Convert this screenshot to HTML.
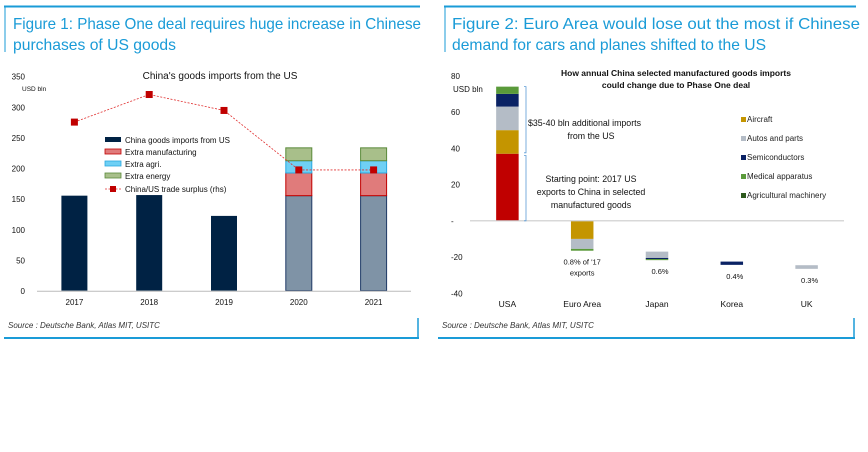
<!DOCTYPE html>
<html><head><meta charset="utf-8"><style>
body{margin:0;background:#fff;width:868px;height:452px;overflow:hidden;font-family:"Liberation Sans",sans-serif}
svg{position:absolute;left:0;top:0}
.t{font-family:"Liberation Sans",sans-serif;fill:#1a9bd7;font-size:16px}
</style></head><body>
<svg id="s" width="868" height="452">
<g>
<line x1="4" y1="6.5" x2="420" y2="6.5" stroke="#1a9bd7" stroke-width="2"/>
<line x1="5" y1="6" x2="5" y2="52" stroke="#1a9bd7" stroke-width="1"/>
<text class="t" x="13" y="29" textLength="408" lengthAdjust="spacingAndGlyphs">Figure 1: Phase One deal requires huge increase in Chinese</text>
<text class="t" x="13" y="50" textLength="163" lengthAdjust="spacingAndGlyphs">purchases of US goods</text>
</g>
<g>
<line x1="444" y1="6.5" x2="856" y2="6.5" stroke="#1a9bd7" stroke-width="2"/>
<line x1="445" y1="6" x2="445" y2="52" stroke="#1a9bd7" stroke-width="1"/>
<text class="t" x="452" y="29" textLength="408" lengthAdjust="spacingAndGlyphs">Figure 2: Euro Area would lose out the most if Chinese</text>
<text class="t" x="452" y="50" textLength="314" lengthAdjust="spacingAndGlyphs">demand for cars and planes shifted to the US</text>
</g>
<g id="c1"></g>
<g id="c2"></g>
<g>
<text x="8" y="328" font-size="8" font-style="italic" fill="#333">Source : Deutsche Bank, Atlas MIT, USITC</text>
<line x1="4" y1="338" x2="419" y2="338" stroke="#1a9bd7" stroke-width="2"/>
<line x1="418" y1="318" x2="418" y2="338" stroke="#1a9bd7" stroke-width="1.5"/>
</g>
<g>
<text x="442" y="328" font-size="8" font-style="italic" fill="#333">Source : Deutsche Bank, Atlas MIT, USITC</text>
<line x1="438" y1="338" x2="855" y2="338" stroke="#1a9bd7" stroke-width="2"/>
<line x1="854" y1="318" x2="854" y2="338" stroke="#1a9bd7" stroke-width="1.5"/>
</g>
</svg>
<script>
const NS="http://www.w3.org/2000/svg";
function mk(p,tag,a,txt){const e=document.createElementNS(NS,tag);for(const k in a)e.setAttribute(k,a[k]);if(txt!==undefined)e.textContent=txt;p.appendChild(e);return e;}

// ---- Chart 1 data ----
const years=["2017","2018","2019","2020","2021"];
const baseImports=[155,156,122,155,155];
const extraManuf=[0,0,0,37,37];
const extraAgri=[0,0,0,20,20];
const extraEnergy=[0,0,0,21,21];
const surplus=[275,320,294,197,197];
const yTicks1=[0,50,100,150,200,250,300,350];

// ---- Chart 2 data ----
const regions=["USA","Euro Area","Japan","Korea","UK"];
const startBase=[0,0,-17,-22.5,-24.5];
const starting=[37,0,0,0,0];
const aircraft=[13,-10,0,0,0];
const autos=[13,-5.5,-3.5,0,-2];
const semis=[7,0,-0.6,-1.8,0];
const medical=[4,-1,-0.6,0,0];
const shareLabels=["","0.8% of '17|exports","0.6%","0.4%","0.3%"];
const yTicks2=[-40,-20,0,20,40,60,80];

// ---- Chart 1 ----
(function(){
const g=document.getElementById('c1');
const x0=37,x1=411,yb=290.7,k=0.6131;
const y=v=>yb-v*k;
const bw=(x1-x0)/years.length;
const xc=i=>x0+bw*(i+0.5);
mk(g,'text',{x:220,y:79,'font-size':10,'text-anchor':'middle',fill:'#111'},"China's goods imports from the US");
yTicks1.forEach(t=>{const e=mk(g,'text',{x:25,y:y(t)+3.5,'font-size':8,'text-anchor':'end',fill:'#111'},t);

});
mk(g,'text',{x:22,y:91,'font-size':6.5,fill:'#111'},'USD bln');
years.forEach((yr,i)=>{
 const cx=xc(i),w=26;
 const proj=extraManuf[i]+extraAgri[i]+extraEnergy[i]>0;
 let b=mk(g,'rect',{x:cx-w/2,y:y(baseImports[i]),width:w,height:baseImports[i]*k,fill:proj?'#7f93a6':'#002244',stroke:proj?'#1f3a66':'none','stroke-width':1});
 
 
 let acc=baseImports[i];
 [[extraManuf,'#e07b7b','#c00000','manufacturing'],[extraAgri,'#6fd0f5','#2aa8e0','agri'],[extraEnergy,'#a8bf8a','#5a8a3a','energy']].forEach(([arr,f,s,n])=>{
  if(arr[i]>0){const r=mk(g,'rect',{x:cx-w/2,y:y(acc+arr[i]),width:w,height:arr[i]*k,fill:f,stroke:s,'stroke-width':1});
  
  }
  acc+=arr[i];});
 const l=mk(g,'text',{x:cx,y:305,'font-size':8,'text-anchor':'middle',fill:'#111'},yr);
 
 
});
mk(g,'line',{x1:x0,y1:yb+0.5,x2:x1,y2:yb+0.5,stroke:'#bbb','stroke-width':1});
const pts=surplus.map((v,i)=>xc(i)+','+y(v)).join(' ');
mk(g,'polyline',{points:pts,fill:'none',stroke:'#e03030','stroke-width':0.8,'stroke-dasharray':'2,1.5'});
surplus.forEach((v,i)=>{const m=mk(g,'rect',{x:xc(i)-3.5,y:y(v)-3.5,width:7,height:7,fill:'#c00000'});

});
const items=[['#002244',null,'China goods imports from US'],['#e07b7b','#c00000','Extra manufacturing'],['#6fd0f5','#2aa8e0','Extra agri.'],['#a8bf8a','#5a8a3a','Extra energy']];
items.forEach((it,j)=>{const ly=141+j*12;
 const r=mk(g,'rect',{x:105,y:ly-4,width:16,height:5,fill:it[0],stroke:it[1]||'none','stroke-width':0.8});
 
 const t=mk(g,'text',{x:125,y:ly+2,'font-size':8,fill:'#111'},it[2]);
 
 });
mk(g,'line',{x1:105,y1:189,x2:121,y2:189,stroke:'#e03030','stroke-width':0.8,'stroke-dasharray':'2,1.5'});
mk(g,'rect',{x:110,y:186,width:6,height:6,fill:'#c00000'});
const lt=mk(g,'text',{x:125,y:192,'font-size':8,fill:'#111'},'China/US trade surplus (rhs)');


})();

// ---- Chart 2 ----
(function(){
const g=document.getElementById('c2');
const x0=470,x1=844,k=1.813,yz=220.8;
const y=v=>yz-v*k;
const bw=(x1-x0)/regions.length;
const xc=i=>x0+bw*(i+0.5);
const t1=mk(g,'text',{x:676,y:76,'font-size':8.5,'font-weight':'bold','text-anchor':'middle',fill:'#111'},'How annual China selected manufactured goods imports');

mk(g,'text',{x:676,y:88,'font-size':8.5,'font-weight':'bold','text-anchor':'middle',fill:'#111'},'could change due to Phase One deal');
yTicks2.forEach(t=>{const e=mk(g,'text',{x:451,y:y(t)+3,'font-size':8,fill:'#111'},t===0?'-':t);

});
mk(g,'text',{x:453,y:92,'font-size':8,fill:'#111'},'USD bln');
const series=[[starting,'#c00000','starting-point'],[aircraft,'#c49500','aircraft'],[autos,'#b4bcc6','autos'],[semis,'#0a2264','semiconductors'],[medical,'#5a9a3a','medical']];
regions.forEach((r,i)=>{
 const cx=xc(i),w=22.5;let acc=startBase[i];
 series.forEach(([arr,col,n])=>{const v=arr[i];if(!v)return;
  const a=acc,b=acc+v;acc=b;
  const rc=mk(g,'rect',{x:cx-w/2,y:y(Math.max(a,b)),width:w,height:Math.abs(v)*k,fill:col});
  
  });
 const lb=mk(g,'text',{x:cx,y:307,'font-size':8.5,'text-anchor':'middle',fill:'#111'},r);
 
 
 if(shareLabels[i]){const parts=shareLabels[i].split('|');
  parts.forEach((p,j)=>{const s=mk(g,'text',{x:cx+(i===1?0:3),y:y(acc)+14+j*11,'font-size':7.5,'text-anchor':'middle',fill:'#111'},p);
  
  });}
});
mk(g,'line',{x1:x0,y1:yz,x2:x1,y2:yz,stroke:'#ccc','stroke-width':1.2});
const bx=526;
mk(g,'path',{d:`M${bx-2},${y(74)} H${bx} V${y(37.5)} H${bx-2}`,fill:'none',stroke:'#5b9bd5','stroke-width':0.8});
mk(g,'path',{d:`M${bx-2},${y(36)} H${bx} V${y(0)} H${bx-2}`,fill:'none',stroke:'#5b9bd5','stroke-width':0.8});
[['$35-40 bln additional imports',528,126,'start'],['from the US',591,139,'middle'],['Starting point: 2017 US',591,182,'middle'],['exports to China in selected',591,195,'middle'],['manufactured goods',591,208,'middle']].forEach(a=>{
 const t=mk(g,'text',{x:a[1],y:a[2],'font-size':8.8,'text-anchor':a[3],fill:'#111'},a[0]);
 
 });
const leg=[['#c49500','Aircraft'],['#b4bcc6','Autos and parts'],['#0a2264','Semiconductors'],['#5a9a3a','Medical apparatus'],['#2e5a1e','Agricultural machinery']];
leg.forEach((l,j)=>{const ly=122+j*19;
 mk(g,'rect',{x:741,y:ly-5,width:5,height:5,fill:l[0]});
 const t=mk(g,'text',{x:747,y:ly,'font-size':8,fill:'#222'},l[1]);
 
 });
})();
</script>
</body></html>
